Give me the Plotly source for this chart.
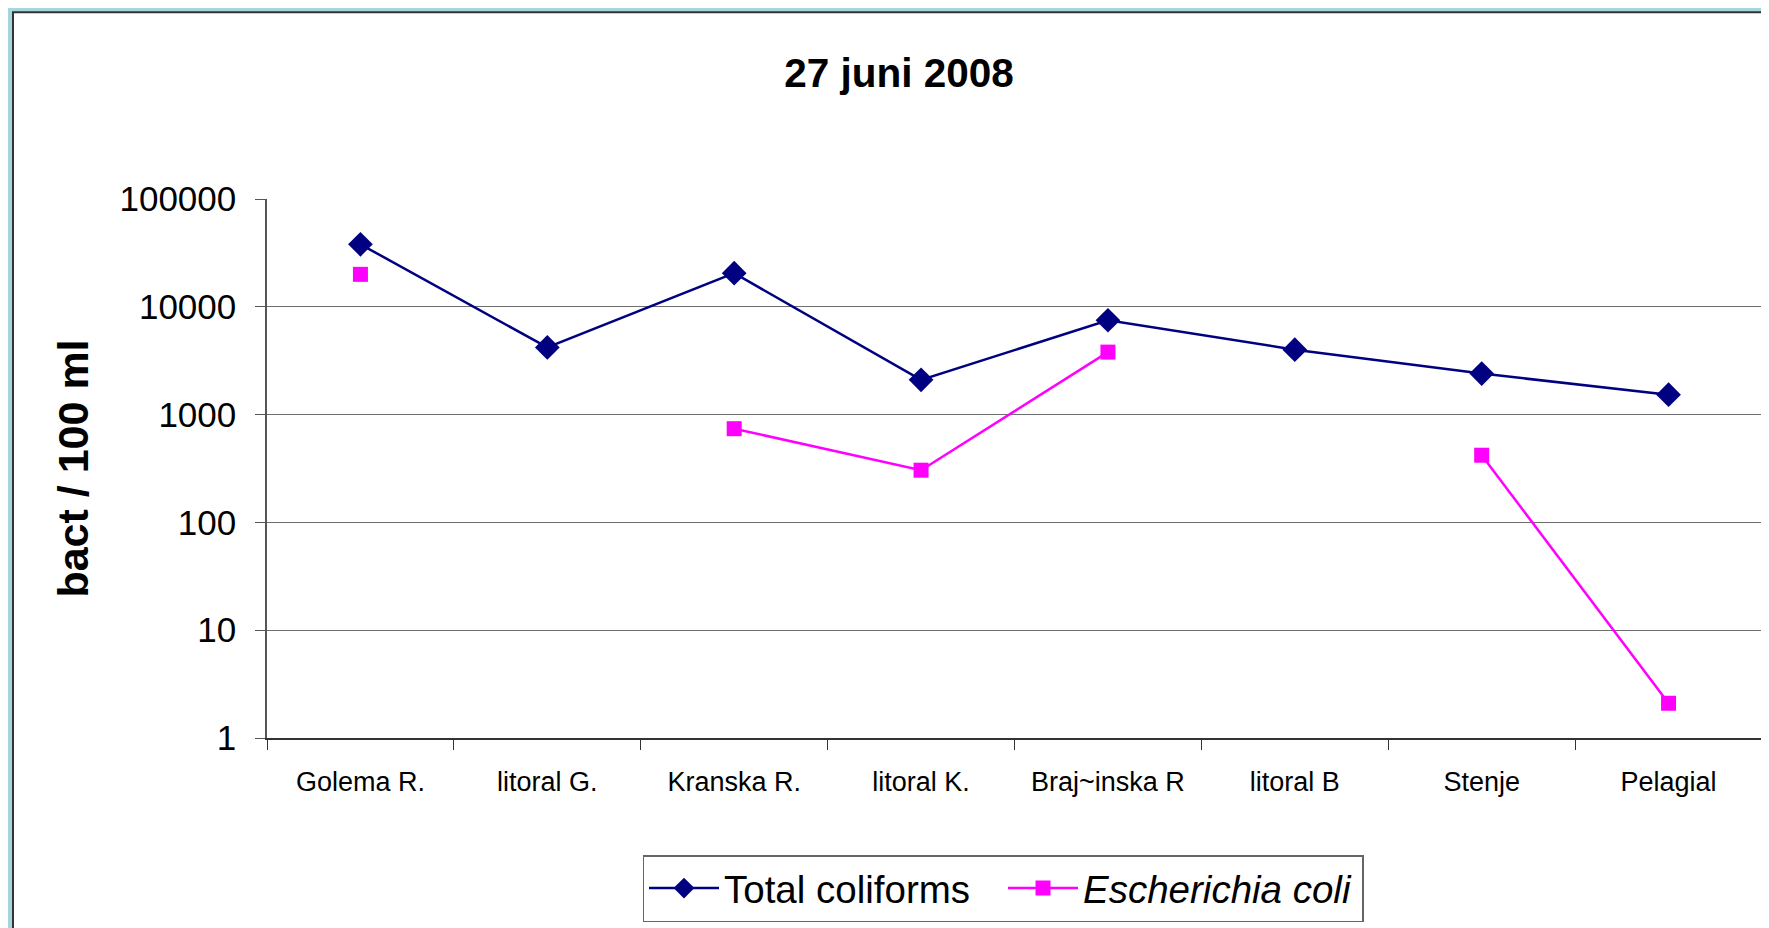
import plotly.graph_objects as go

categories = ["Golema R.", "litoral G.", "Kranska R.", "litoral K.", "Braj~inska R", "litoral B", "Stenje", "Pelagial"]
total_coliforms = [38000, 4200, 20500, 2100, 7500, 4000, 2400, 1530]
e_coli = [20000, None, 740, 305, 3800, None, 420, 2.1]
y_tickvals = [1, 10, 100, 1000, 10000, 100000]
y_ticktext = ["1", "10", "100", "1000", "10000", "100000"]

# page has an 8px body margin; figure coordinates are page coordinates - 8
OFF = 8
W, H = 1769 - OFF, 928 - OFF
L, R, T, B = 267 - OFF, 1762 - OFF, 199 - OFF, 739 - OFF

FONT = "Liberation Sans, Arial, sans-serif"

fig = go.Figure()
fig.add_trace(go.Scatter(
    x=categories, y=total_coliforms, name="Total coliforms",
    mode="lines+markers",
    line=dict(color="#000080", width=2.5),
    marker=dict(symbol="diamond", size=19, color="#000080"),
))
fig.add_trace(go.Scatter(
    x=categories, y=e_coli, name="<i>Escherichia coli</i>",
    mode="lines+markers", connectgaps=False,
    line=dict(color="#FF00FF", width=2.5),
    marker=dict(symbol="square", size=15, color="#FF00FF"),
))

pw = R - L
ph = B - T
def px(x):
    return (x - OFF - L) / pw
def py(y):
    return (B - (y - OFF)) / ph

fig.add_shape(type="rect", xref="paper", yref="paper",
              x0=px(13), x1=px(1769 + 10), y0=py(928 + 10), y1=py(12),
              fillcolor="white", line=dict(color="#333333", width=2), layer="below")

fig.update_layout(
    width=W, height=H, autosize=False,
    margin=dict(l=L, r=W - R, t=T, b=H - B, pad=0),
    paper_bgcolor="#a3d6dd",
    plot_bgcolor="rgba(0,0,0,0)",
    font=dict(family=FONT, color="black"),
    title=dict(text="<b>27 juni 2008</b>", x=(899 - OFF) / W, xanchor="center", xref="container",
               y=1 - (73 - OFF) / H, yanchor="middle", yref="container",
               font=dict(size=40.5, family=FONT, color="black")),
    showlegend=True,
    legend=dict(orientation="h", x=px(1003), xanchor="center", y=py(855), yanchor="top",
                bordercolor="#666666", borderwidth=1.5, bgcolor="white",
                font=dict(size=38.5, family=FONT, color="black"),
                entrywidth=274, itemwidth=70),
)
fig.update_xaxes(
    type="category", range=[-0.5, 7.5],
    showgrid=False, showline=True, linecolor="#333333", linewidth=1.5,
    ticks="outside", tickson="boundaries", ticklen=10, tickcolor="#333333",
    tickfont=dict(size=27, family=FONT, color="black"), ticklabelstandoff=19,
)
fig.update_yaxes(
    type="log", range=[0, 5],
    tickvals=y_tickvals, ticktext=y_ticktext,
    showgrid=True, gridcolor="#6e6e6e", gridwidth=1.3,
    showline=True, linecolor="#555555", linewidth=1.5,
    ticks="outside", ticklen=10, tickcolor="#555555",
    tickfont=dict(size=35, family=FONT, color="black"), ticklabelstandoff=12,
    title=dict(text="<b>bact / 100 ml</b>", font=dict(size=43, family=FONT, color="black"), standoff=17),
    zeroline=False,
)

fig.write_html("out.html")
